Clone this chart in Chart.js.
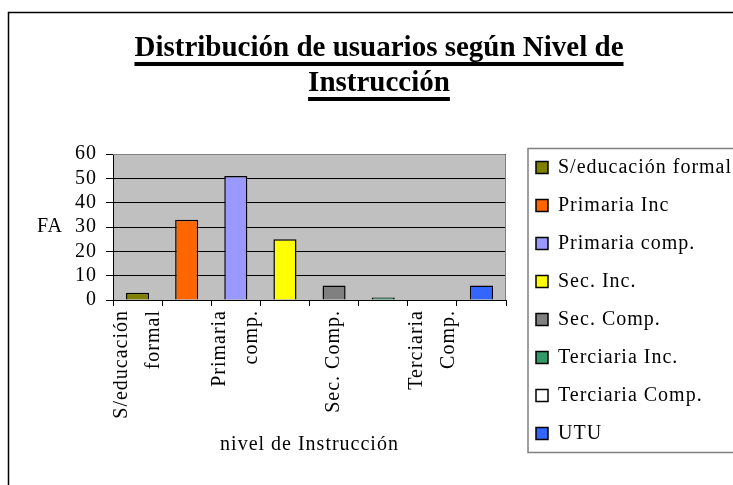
<!DOCTYPE html>
<html>
<head>
<meta charset="utf-8">
<script src="https://cdn.jsdelivr.net/npm/chart.js@4.4.1/dist/chart.umd.min.js"></script>
<style>
  html, body { margin: 0; padding: 0; background: #fff; }
</style>
</head>
<body>
<canvas id="chart" width="733" height="485"></canvas>
<script>
const categories = ['S/educación formal', 'Primaria Inc', 'Primaria comp.', 'Sec. Inc.', 'Sec. Comp.', 'Terciaria Inc.', 'Terciaria Comp.', 'UTU'];
const frecuencias = [3, 33, 51, 25, 6, 1, 0, 6];
const colores = ['#808000', '#FF6600', '#9999FF', '#FFFF00', '#808080', '#339966', '#FFFFFF', '#3366FF'];
// Excel only labelled every other category
const tickLabels = [['S/educación', 'formal'], '', ['Primaria', 'comp.'], '', 'Sec. Comp.', '', ['Terciaria', 'Comp.'], ''];
const yTicks = [0, 10, 20, 30, 40, 50, 60];
const titleLines = ['Distribución de usuarios según Nivel de', 'Instrucción'];

const serif = "'Liberation Serif', 'Times New Roman', serif";

// canvas state gets reset on resize, so set the spacing again before measuring/drawing
const decor = {
  id: 'decor',
  beforeUpdate(chart) { chart.ctx.letterSpacing = '1px'; },
  beforeLayout(chart) {
    const lg = chart.legend;
    if (lg && !lg._wrapped) {
      const fit = lg.fit;
      lg.fit = function () { fit.call(this); this.width = 227; };
      lg._wrapped = true;
    }
    const xs = chart.scales.x;
    if (xs && !xs._wrapped) {
      // centre two-line rotated labels on their category
      const compute = xs._computeLabelItems;
      xs._computeLabelItems = function (area) {
        const items = compute.call(this, area);
        items.forEach(it => {
          if (Array.isArray(it.label)) {
            it.options.translation[0] -= (it.label.length - 1) * it.font.lineHeight / 2;
          }
        });
        return items;
      };
      xs._wrapped = true;
    }
  },
  afterLayout(chart) {
    const lg = chart.legend;
    lg.left += 12; lg.right += 12;
    lg.top -= 16; lg.bottom -= 16;
  },
  beforeDraw(chart) {
    const ctx = chart.ctx, a = chart.chartArea;
    ctx.letterSpacing = '1px';
    ctx.save();
    ctx.fillStyle = '#fff';
    ctx.fillRect(0, 0, chart.width, chart.height);
    ctx.strokeStyle = '#000';
    ctx.lineWidth = 1.5;
    ctx.strokeRect(8.5, 12.5, chart.width + 20, chart.height + 20);
    ctx.fillStyle = '#C0C0C0';
    ctx.fillRect(a.left, a.top, a.right - a.left, a.bottom - a.top);
    ctx.restore();
  },
  beforeDatasetsDraw(chart) {
    const ctx = chart.ctx, a = chart.chartArea;
    ctx.save();
    ctx.strokeStyle = '#808080';
    ctx.lineWidth = 1;
    ctx.beginPath();
    ctx.moveTo(a.left, a.top + 0.5);
    ctx.lineTo(a.right - 0.5, a.top + 0.5);
    ctx.lineTo(a.right - 0.5, a.bottom);
    ctx.stroke();
    ctx.restore();
  },
  afterDraw(chart) {
    const ctx = chart.ctx, a = chart.chartArea, lg = chart.legend;
    ctx.save();
    // y axis caption, not rotated
    ctx.fillStyle = '#000';
    ctx.font = '20px ' + serif;
    ctx.textAlign = 'center';
    ctx.textBaseline = 'middle';
    ctx.fillText('FA', a.left - 63, (a.top + a.bottom) / 2);
    // legend frame
    const hb = lg.legendHitBoxes;
    if (hb.length) {
      const first = hb[0], last = hb[hb.length - 1];
      const top = first.top - 9;
      ctx.strokeStyle = '#808080';
      ctx.lineWidth = 1.5;
      ctx.strokeRect(first.left - 8, top, 300, last.top + last.height + 9 - top);
    }
    // underlined title
    ctx.letterSpacing = '0px';
    ctx.font = 'bold 29px ' + serif;
    ctx.textBaseline = 'alphabetic';
    const cx = 379;
    const baselines = [56, 91];
    titleLines.forEach((t, i) => {
      ctx.fillText(t, cx, baselines[i]);
      const w = ctx.measureText(t).width;
      ctx.fillRect(cx - w / 2, baselines[i] + 6, w, 4);
    });
    ctx.restore();
  }
};

new Chart(document.getElementById('chart'), {
  type: 'bar',
  data: {
    labels: categories,
    datasets: [{
      label: 'FA',
      data: frecuencias,
      backgroundColor: colores,
      borderColor: '#000',
      borderWidth: 1.5,
      barPercentage: 0.47,
      categoryPercentage: 1
    }]
  },
  options: {
    responsive: false,
    animation: false,
    layout: { padding: { top: 154, left: 8, right: 0, bottom: 6 } },
    plugins: {
      title: { display: false },
      tooltip: { enabled: false },
      legend: {
        position: 'right',
        onClick: null,
        labels: {
          boxWidth: 12,
          boxHeight: 12,
          padding: 18,
          color: '#000',
          font: { family: serif, size: 20 },
          generateLabels: () => categories.map((c, i) => ({
            text: c,
            fillStyle: colores[i],
            strokeStyle: '#000',
            lineWidth: 1.5,
            hidden: false,
            index: i,
            datasetIndex: 0
          }))
        }
      }
    },
    scales: {
      x: {
        grid: { drawOnChartArea: false, drawTicks: true, tickLength: 6, color: '#000', offset: true },
        border: { color: '#000', width: 1 },
        ticks: {
          autoSkip: false,
          minRotation: 90,
          maxRotation: 90,
          padding: 4,
          color: '#000',
          font: { family: serif, size: 20, lineHeight: 1.6 },
          callback: (v, i) => tickLabels[i]
        },
        title: {
          display: true,
          text: 'nivel de Instrucción',
          color: '#000',
          font: { family: serif, size: 20 },
          padding: { top: 0, bottom: 22 }
        },
        afterFit(s) { s.height = 179; }
      },
      y: {
        min: 0,
        max: 60,
        afterBuildTicks(s) { s.ticks = yTicks.map(v => ({ value: v })); },
        grid: { color: '#000', lineWidth: 1, tickLength: 7 },
        border: { color: '#000', width: 1 },
        ticks: { autoSkip: false, color: '#000', padding: 9, font: { family: serif, size: 20 } },
        afterFit(s) { s.width = 105; }
      }
    }
  },
  plugins: [decor]
});
</script>
</body>
</html>
